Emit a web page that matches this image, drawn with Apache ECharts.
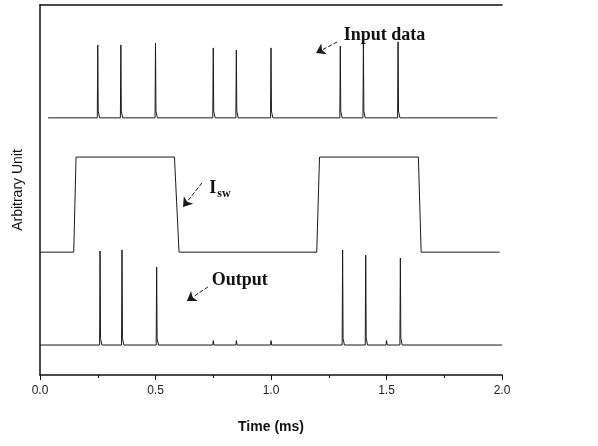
<!DOCTYPE html>
<html>
<head>
<meta charset="utf-8">
<script src="https://cdn.jsdelivr.net/npm/echarts@6/dist/echarts.min.js"></script>
<style>html,body{margin:0;padding:0;background:#fff}#c{width:598px;height:446px}</style>
</head>
<body>
<div id="c"></div>
<script>
// ---- data (time in ms, arbitrary units) ----
const xTicks = [0.0, 0.5, 1.0, 1.5, 2.0];
const inputTimes = [0.25, 0.35, 0.5, 0.75, 0.85, 1.0, 1.3, 1.4, 1.55];
const inputPeaks = [8.92, 8.92, 8.97, 8.84, 8.78, 8.84, 8.89, 8.97, 9.0];
const inputBase = 6.95;
const inputStart = 0.035, inputEnd = 1.98;

const iswTimes  = [0, 0.146, 0.156, 0.582, 0.602, 1.198, 1.21, 1.638, 1.65, 1.99];
const iswValues = [3.32, 3.32, 5.89, 5.89, 3.32, 3.32, 5.89, 5.89, 3.32, 3.32];

const outputTimes = [0.26, 0.355, 0.505, 1.31, 1.41, 1.56];
const outputPeaks = [3.35, 3.38, 2.92, 3.38, 3.24, 3.16];
const outputBlips = [0.75, 0.85, 1.0, 1.5];
const outputBase = 0.81;
const outputStart = 0.0, outputEnd = 2.0;

function pulseTrain(start, end, base, times, peaks, blips) {
  const ev = [];
  times.forEach((t, i) => ev.push({t, p: peaks[i], big: true}));
  (blips || []).forEach(t => ev.push({t, p: base + 0.12, big: false}));
  ev.sort((a, b) => a.t - b.t);
  const pts = [[start, base]];
  ev.forEach(e => {
    pts.push([e.t - 0.002, base]);
    pts.push([e.t, e.p]);
    if (e.big) {
      pts.push([e.t + 0.002, base + 0.18]);
      pts.push([e.t + 0.008, base]);
    } else {
      pts.push([e.t + 0.003, base]);
    }
  });
  pts.push([end, base]);
  return pts;
}

const inputData = pulseTrain(inputStart, inputEnd, inputBase, inputTimes, inputPeaks);
const outputData = pulseTrain(outputStart, outputEnd, outputBase, outputTimes, outputPeaks, outputBlips);
const iswData = iswTimes.map((t, i) => [t, iswValues[i]]);

const lineCol = '#1a1a1a';
const annFont = '"Liberation Serif", "DejaVu Serif", serif';
const sansFont = '"Liberation Sans", Arial, sans-serif';

function arrow(from, to) {
  return [{coord: from}, {coord: to}];
}

const chart = echarts.init(document.getElementById('c'), null, {renderer: 'canvas'});
chart.setOption({
  animation: false,
  backgroundColor: '#fff',
  grid: {left: 40, right: 96, top: 5, bottom: 71},
  xAxis: [{
    type: 'value', min: 0, max: 2.0, interval: 0.5,
    name: 'Time (ms)', nameLocation: 'middle', nameGap: 45,
    nameTextStyle: {fontFamily: sansFont, fontSize: 14, fontWeight: 'bold', color: '#111'},
    axisLine: {show: true, lineStyle: {color: '#111', width: 1.5}},
    axisTick: {show: true, inside: false, length: 5, lineStyle: {color: '#111'}},
    minorTick: {show: true, splitNumber: 2, length: 3, lineStyle: {color: '#111'}},
    splitLine: {show: false},
    axisLabel: {
      margin: 10, fontFamily: sansFont, fontSize: 12, color: '#222',
      formatter: v => xTicks.indexOf(v) >= 0 ? v.toFixed(1) : ''
    }
  }, {
    type: 'value', min: 0, max: 2.0, position: 'top',
    axisLine: {show: true, onZero: false, lineStyle: {color: '#111', width: 1.5}},
    axisTick: {show: false}, axisLabel: {show: false}, splitLine: {show: false}
  }],
  yAxis: {
    type: 'value', min: 0, max: 10,
    name: 'Arbitrary Unit', nameLocation: 'middle', nameGap: 15,
    nameTextStyle: {fontFamily: sansFont, fontSize: 14, color: '#111'},
    axisLine: {show: true, lineStyle: {color: '#111', width: 1.5}},
    axisTick: {show: false}, axisLabel: {show: false}, splitLine: {show: false}
  },
  series: [{
    name: 'Input data', type: 'line', data: inputData, showSymbol: false,
    lineStyle: {color: lineCol, width: 1}, z: 3,
    markLine: {
      silent: true, symbol: ['none', 'arrow'], symbolSize: 9, label: {show: false},
      lineStyle: {color: lineCol, width: 1, type: 'dashed'},
      data: [arrow([1.286, 9.0], [1.195, 8.70])]
    },
    markPoint: {
      silent: true, symbol: 'circle', symbolSize: 0,
      data: [{coord: [1.315, 9.19], label: {show: true, formatter: 'Input data', position: 'right', distance: 0,
        fontFamily: annFont, fontWeight: 'bold', fontSize: 18, color: '#111'}}]
    }
  }, {
    name: 'Isw', type: 'line', data: iswData, showSymbol: false,
    lineStyle: {color: lineCol, width: 1}, z: 3,
    markLine: {
      silent: true, symbol: ['none', 'arrow'], symbolSize: 9, label: {show: false},
      lineStyle: {color: lineCol, width: 1, type: 'dashed'},
      data: [arrow([0.701, 5.19], [0.619, 4.54])]
    },
    markPoint: {
      silent: true, symbol: 'circle', symbolSize: 0,
      data: [{coord: [0.733, 5.05], label: {show: true, position: 'right', distance: 0,
        formatter: '{a|I}{b|sw}',
        rich: {
          a: {fontFamily: annFont, fontWeight: 'bold', fontSize: 18, color: '#111'},
          b: {fontFamily: annFont, fontWeight: 'bold', fontSize: 12, color: '#111', padding: [12, 0, 0, 1]}
        }}}]
    }
  }, {
    name: 'Output', type: 'line', data: outputData, showSymbol: false,
    lineStyle: {color: lineCol, width: 1}, z: 3,
    markLine: {
      silent: true, symbol: ['none', 'arrow'], symbolSize: 9, label: {show: false},
      lineStyle: {color: lineCol, width: 1, type: 'dashed'},
      data: [arrow([0.727, 2.38], [0.636, 2.0])]
    },
    markPoint: {
      silent: true, symbol: 'circle', symbolSize: 0,
      data: [{coord: [0.743, 2.57], label: {show: true, formatter: 'Output', position: 'right', distance: 0,
        fontFamily: annFont, fontWeight: 'bold', fontSize: 18, color: '#111'}}]
    }
  }]
});
</script>
</body>
</html>
